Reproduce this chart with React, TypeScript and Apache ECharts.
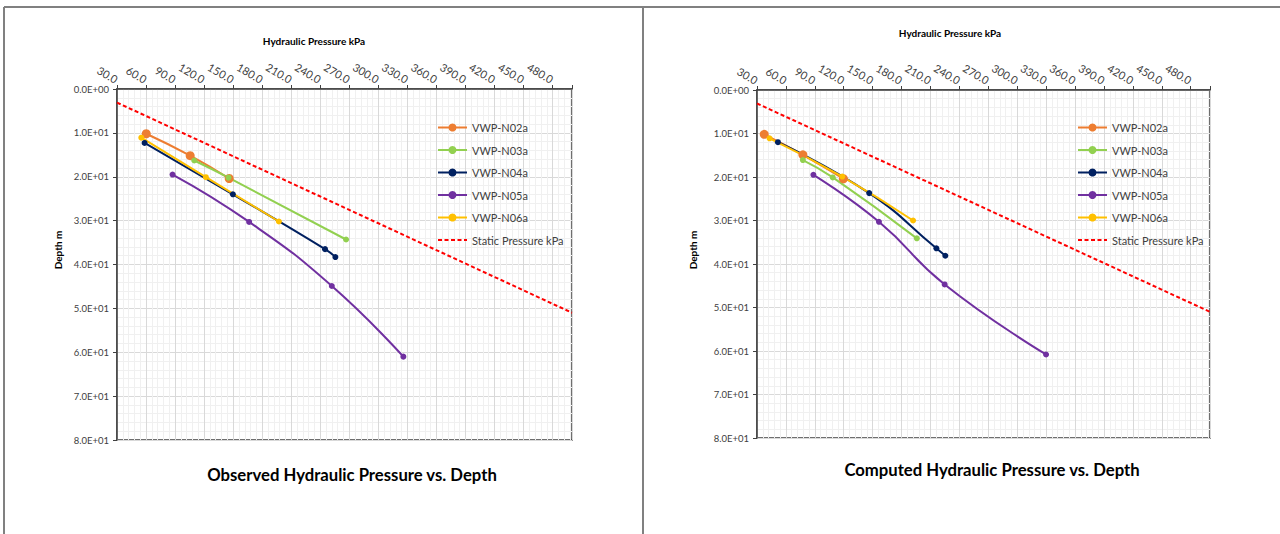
import React, { useEffect, useRef } from "react";
import * as echarts from "echarts";

// Piezometer readings: [pressure kPa, depth m]
const observedN02a = [[60.2, 10.2], [105.6, 15.2], [145.9, 20.4]];
const observedN03a = [[109.8, 16.3], [145.2, 20.2], [266.6, 34.3]];
const observedN04a = [[58.5, 12.3], [149.7, 24.0], [244.9, 36.5], [255.6, 38.3]];
const observedN05a = [[87.4, 19.5], [166.5, 30.3], [251.9, 44.9], [325.8, 61.0]];
const observedN06a = [[55.1, 11.1], [121.8, 20.1], [197.2, 30.2]];

const computedN02a = [[37.5, 10.2], [77.6, 14.9], [119.6, 20.4]];
const computedN03a = [[77.6, 16.1], [108.6, 20.1], [195.8, 34.1]];
const computedN04a = [[51.7, 12.0], [146.4, 23.7], [216.1, 36.4], [225.4, 38.1]];
const computedN05a = [[88.5, 19.5], [156.5, 30.3], [224.7, 44.7], [329.9, 60.8]];
const computedN06a = [[43.0, 11.1], [118.5, 19.9], [191.9, 30.0]];

// Hydrostatic line
const staticPressure = [[30, 3.1], [500, 51.0]];

const seriesNames = ["VWP-N02a", "VWP-N03a", "VWP-N04a", "VWP-N05a", "VWP-N06a"];
const staticName = "Static Pressure kPa";
const seriesColors = ["#ED7D31", "#92D050", "#002060", "#7030A0", "#FFC000"];
const symbolSizes = [9, 6, 6, 6, 6];

const xMin = 30;
const xMax = 500;
const xStep = 30;
const yMin = 0;
const yMax = 80;
const yStep = 10;

const panelTitles = ["Observed Hydraulic Pressure vs. Depth", "Computed Hydraulic Pressure vs. Depth"];
const axisTitleX = "Hydraulic Pressure kPa";
const axisTitleY = "Depth m";

const FONT = "Lato, 'Open Sans', sans-serif";
const AXIS_COLOR = "#404040";

function sci(v: number): string {
  if (v === 0) return "0.0E+00";
  const e = Math.floor(Math.log10(Math.abs(v)) + 1e-9);
  const m = v / Math.pow(10, e);
  const sign = e < 0 ? "-" : "+";
  return `${m.toFixed(1)}E${sign}${String(Math.abs(e)).padStart(2, "0")}`;
}

function makeX(gridIndex: number) {
  return {
    type: "value",
    gridIndex,
    position: "top",
    min: xMin,
    max: xMax,
    interval: xStep,
    axisLine: { show: true, lineStyle: { color: AXIS_COLOR, width: 1.5 } },
    axisTick: { show: true, inside: false, length: 4, lineStyle: { color: AXIS_COLOR } },
    axisLabel: {
      rotate: -30,
      margin: 9,
      fontSize: 11,
      fontFamily: FONT,
      color: AXIS_COLOR,
      formatter: (v: number) => (v >= xMax ? "" : v.toFixed(1)),
    },
    splitLine: { show: true, lineStyle: { color: "#d9d9d9", width: 1 } },
    minorTick: { show: false, splitNumber: 5 },
    minorSplitLine: { show: true, lineStyle: { color: "#f0f0f0", width: 1 } },
  };
}

function makeY(gridIndex: number) {
  return {
    type: "value",
    gridIndex,
    inverse: true,
    min: yMin,
    max: yMax,
    interval: yStep,
    axisLine: { show: true, lineStyle: { color: AXIS_COLOR, width: 1.5 } },
    axisTick: { show: true, inside: false, length: 4, lineStyle: { color: AXIS_COLOR } },
    axisLabel: {
      margin: 8,
      fontSize: 9.5,
      fontFamily: FONT,
      color: AXIS_COLOR,
      formatter: (v: number) => sci(v),
    },
    splitLine: { show: true, lineStyle: { color: "#d9d9d9", width: 1 } },
    minorTick: { show: false, splitNumber: 5 },
    minorSplitLine: { show: true, lineStyle: { color: "#f0f0f0", width: 1 } },
  };
}

function makeSeries(gridIndex: number, groups: number[][][]) {
  const out: any[] = groups.map((data, i) => ({
    name: seriesNames[i],
    type: "line",
    xAxisIndex: gridIndex,
    yAxisIndex: gridIndex,
    data,
    smooth: 0.5,
    symbol: "circle",
    symbolSize: symbolSizes[i],
    itemStyle: { color: seriesColors[i] },
    lineStyle: { color: seriesColors[i], width: 2 },
  }));
  out.push({
    name: staticName,
    type: "line",
    xAxisIndex: gridIndex,
    yAxisIndex: gridIndex,
    data: staticPressure,
    symbol: "none",
    itemStyle: { color: "rgba(0,0,0,0)" },
    lineStyle: { color: "#FF0000", width: 2, type: [4, 2.5] },
  });
  return out;
}

function makeLegend(left: number) {
  return {
    orient: "vertical",
    left,
    top: 122,
    padding: 0,
    itemWidth: 29,
    itemHeight: 10,
    itemGap: 11.5,
    data: [
      ...seriesNames,
      { name: staticName, itemStyle: { opacity: 0 } },
    ],
    textStyle: { fontSize: 11, fontFamily: FONT, color: AXIS_COLOR },
    selectedMode: false,
  };
}

export default function App() {
  const ref = useRef<HTMLDivElement>(null);

  useEffect(() => {
    if (!ref.current) return;
    const chart = echarts.init(ref.current, undefined, { renderer: "svg" });
    const frame = { stroke: "#808080", lineWidth: 2 };
    const titleStyle = (text: string, size: number) => ({
      text, fontSize: size, fontWeight: "bold", fontFamily: FONT, fill: "#000",
      align: "center", verticalAlign: "middle",
    });
    chart.setOption({
      animation: false,
      backgroundColor: "#ffffff",
      grid: [
        { left: 117, top: 89, width: 455, height: 351, show: true, borderColor: AXIS_COLOR, borderWidth: 1.5, backgroundColor: "#ffffff" },
        { left: 757, top: 90, width: 453, height: 348, show: true, borderColor: AXIS_COLOR, borderWidth: 1.5, backgroundColor: "#ffffff" },
      ],
      xAxis: [makeX(0), makeX(1)],
      yAxis: [makeY(0), makeY(1)],
      legend: [makeLegend(437), makeLegend(1077)],
      series: [
        ...makeSeries(0, [observedN02a, observedN03a, observedN04a, observedN05a, observedN06a]),
        ...makeSeries(1, [computedN02a, computedN03a, computedN04a, computedN05a, computedN06a]),
      ],
      graphic: [
        { type: "line", shape: { x1: 4, y1: 7, x2: 1280, y2: 7 }, style: frame, silent: true },
        { type: "line", shape: { x1: 4, y1: 7, x2: 4, y2: 534 }, style: frame, silent: true },
        { type: "line", shape: { x1: 643, y1: 7, x2: 643, y2: 534 }, style: frame, silent: true },
        { type: "text", x: 314, y: 41, style: titleStyle(axisTitleX, 10) },
        { type: "text", x: 950, y: 33, style: titleStyle(axisTitleX, 10) },
        { type: "text", x: 58, y: 250, rotation: Math.PI / 2, style: titleStyle(axisTitleY, 10) },
        { type: "text", x: 693, y: 250, rotation: Math.PI / 2, style: titleStyle(axisTitleY, 10) },
        { type: "text", x: 352, y: 475, style: titleStyle(panelTitles[0], 16.7) },
        { type: "text", x: 992, y: 470, style: titleStyle(panelTitles[1], 16.7) },
      ],
    });
    return () => chart.dispose();
  }, []);

  return (
    <div
      ref={ref}
      style={{ position: "fixed", left: 0, top: 0, width: 1280, height: 534, background: "#fff" }}
    />
  );
}
